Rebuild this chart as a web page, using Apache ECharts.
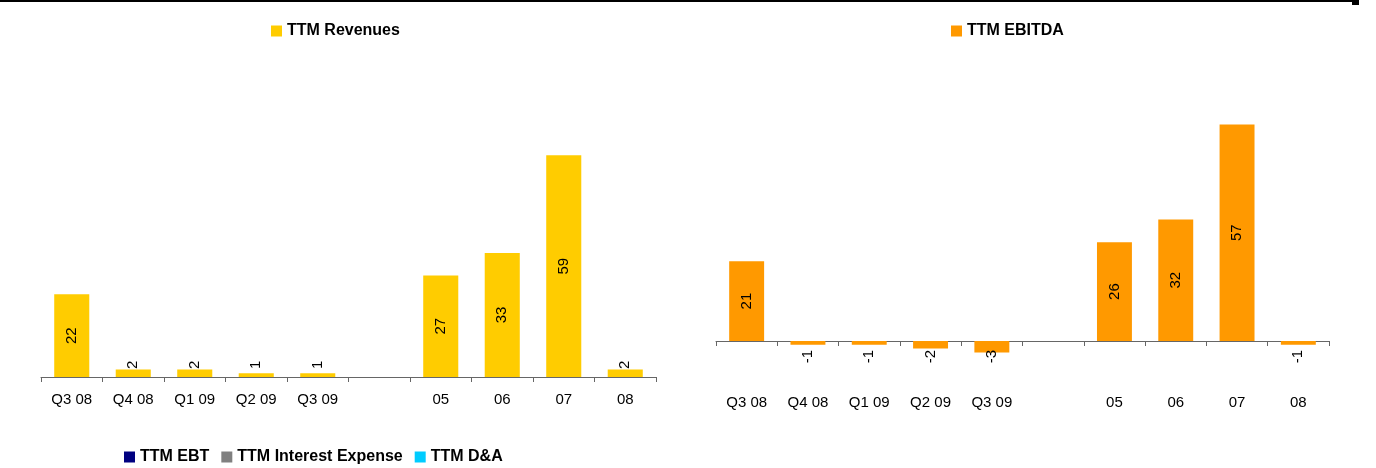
<!DOCTYPE html>
<html>
<head>
<meta charset="utf-8">
<title>TTM Revenues and EBITDA</title>
<script src="https://cdn.jsdelivr.net/npm/echarts@6/dist/echarts.min.js"></script>
<style>
  html, body { margin: 0; padding: 0; background: #ffffff; }
  #chart { width: 1376px; height: 468px; }
</style>
</head>
<body>
<div id="chart"></div>
<script>
// Period labels: quarterly TTM first, then fiscal years (blank slot separates them)
const categories = ['Q3 08', 'Q4 08', 'Q1 09', 'Q2 09', 'Q3 09', '', '05', '06', '07', '08'];

// TTM Revenues per period
const revenues = [22, 2, 2, 1, 1, null, 27, 33, 59, 2];

// TTM EBITDA per period
const ebitda = [21, -1, -1, -2, -3, null, 26, 32, 57, -1];

// Legend-only series shown under the charts
const ebt = [];
const interestExpense = [];
const depreciation = [];

const FONT = "'Liberation Sans', Arial, Helvetica, sans-serif";
const COLORS = {
  revenues: '#FFCC00',
  ebitda: '#FF9900',
  ebt: '#000080',
  interest: '#808080',
  da: '#00CCFF'
};

// Value labels: rotated inside the bar when it is tall enough,
// otherwise set just off the axis line.
const bigLabel = {
  show: true, position: 'inside', rotate: 90,
  fontFamily: FONT, fontSize: 15, color: '#000'
};
const smallPositive = {
  show: true, position: 'insideBottom', distance: 8, rotate: 90,
  align: 'left', verticalAlign: 'middle',
  fontFamily: FONT, fontSize: 15, color: '#000'
};
const smallNegative = {
  show: true, position: 'insideTop', distance: 9, rotate: 90,
  align: 'right', verticalAlign: 'middle',
  fontFamily: FONT, fontSize: 15, color: '#000'
};

function barItems(values) {
  return values.map(function (v) {
    if (v === null) return '-';
    let label = bigLabel;
    if (Math.abs(v) < 5) label = v >= 0 ? smallPositive : smallNegative;
    return { value: v, label: label };
  });
}

const axisLineStyle = { color: '#666666', width: 1 };
const labelStyle = { fontFamily: FONT, fontSize: 15, color: '#000' };

const legendText = { fontFamily: FONT, fontSize: 16, fontWeight: 'bold', color: '#000' };

const option = {
  backgroundColor: '#ffffff',
  animation: false,
  textStyle: { fontFamily: FONT },
  legend: [
    {
      data: ['TTM Revenues'], left: 271, top: 23,
      icon: 'rect', itemWidth: 11, itemHeight: 11,
      textStyle: legendText, selectedMode: false, padding: 0
    },
    {
      data: ['TTM EBITDA'], left: 951, top: 23,
      icon: 'rect', itemWidth: 11, itemHeight: 11,
      textStyle: legendText, selectedMode: false, padding: 0
    },
    {
      data: ['TTM EBT', 'TTM Interest Expense', 'TTM D&A'], left: 124, top: 449,
      icon: 'rect', itemWidth: 11, itemHeight: 11, itemGap: 12,
      textStyle: legendText, selectedMode: false, padding: 0
    }
  ],
  grid: [
    { left: 41, top: 114, width: 615, height: 263 },
    { left: 716, top: 113, width: 613, height: 266 },
    { left: 0, top: 0, width: 1, height: 1, show: false }
  ],
  xAxis: [
    {
      gridIndex: 0, type: 'category', data: categories,
      axisLine: { show: true, lineStyle: axisLineStyle },
      axisTick: { show: true, length: 5, lineStyle: axisLineStyle },
      axisLabel: Object.assign({ margin: 15, interval: 0 }, labelStyle),
      splitLine: { show: false }
    },
    {
      // zero line with tick marks for the EBITDA chart
      gridIndex: 1, type: 'category', data: categories,
      axisLine: { show: true, onZero: true, lineStyle: axisLineStyle },
      axisTick: { show: true, length: 5, lineStyle: axisLineStyle },
      axisLabel: { show: false },
      splitLine: { show: false }
    },
    {
      // period labels along the bottom of the EBITDA chart
      gridIndex: 1, type: 'category', data: categories, position: 'bottom',
      axisLine: { show: false, onZero: false },
      axisTick: { show: false },
      axisLabel: Object.assign({ margin: 16, interval: 0 }, labelStyle),
      splitLine: { show: false }
    },
    { gridIndex: 2, type: 'category', data: categories, show: false }
  ],
  yAxis: [
    { gridIndex: 0, type: 'value', min: 0, max: 70, show: false, splitLine: { show: false } },
    { gridIndex: 1, type: 'value', min: -10, max: 60, show: false, splitLine: { show: false } },
    { gridIndex: 2, type: 'value', show: false }
  ],
  series: [
    {
      name: 'TTM Revenues', type: 'bar', xAxisIndex: 0, yAxisIndex: 0,
      barWidth: '57%', itemStyle: { color: COLORS.revenues },
      data: barItems(revenues)
    },
    {
      name: 'TTM EBITDA', type: 'bar', xAxisIndex: 1, yAxisIndex: 1,
      barWidth: '57%', itemStyle: { color: COLORS.ebitda },
      data: barItems(ebitda)
    },
    { name: 'TTM EBT', type: 'bar', xAxisIndex: 3, yAxisIndex: 2, itemStyle: { color: COLORS.ebt }, data: ebt },
    { name: 'TTM Interest Expense', type: 'bar', xAxisIndex: 3, yAxisIndex: 2, itemStyle: { color: COLORS.interest }, data: interestExpense },
    { name: 'TTM D&A', type: 'bar', xAxisIndex: 3, yAxisIndex: 2, itemStyle: { color: COLORS.da }, data: depreciation }
  ],
  graphic: [
    // page rule across the top
    { type: 'rect', left: 0, top: 0, shape: { width: 1359, height: 2 }, style: { fill: '#000' }, silent: true },
    { type: 'rect', left: 1352, top: 0, shape: { width: 7, height: 5 }, style: { fill: '#000' }, silent: true }
  ]
};

const chart = echarts.init(document.getElementById('chart'), null, { renderer: 'canvas' });
chart.setOption(option);
</script>
</body>
</html>
